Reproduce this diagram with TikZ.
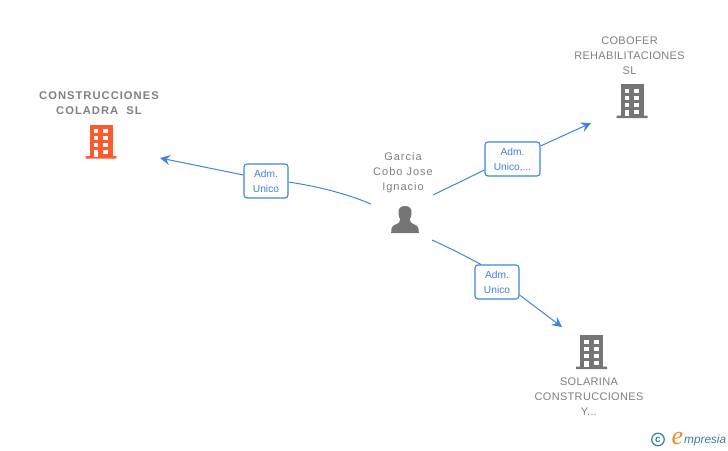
\documentclass[tikz,border=0pt]{standalone}
\usepackage{fontspec}
\setmainfont{Liberation Sans}
\newfontfamily\spaced[LetterSpace=3]{Liberation Sans}
\newfontfamily\spacedwide[LetterSpace=9]{Liberation Sans}
\newfontfamily\spacedb[LetterSpace=9]{Liberation Sans}
\newfontfamily\logofont{Liberation Sans}
\newfontfamily\logoefont{Liberation Serif}
\usetikzlibrary{arrows.meta}
\definecolor{linkblue}{HTML}{3D85E0}
\definecolor{labelblue}{HTML}{3F7FDC}
\definecolor{icongray}{HTML}{757575}
\definecolor{textgray}{HTML}{808080}
\definecolor{iconorange}{HTML}{FF5A2C}
\definecolor{logoteal}{HTML}{3A7F9C}
\definecolor{logoorange}{HTML}{F08A1E}
\tikzset{
  x=1pt,y=-1pt,
  nametext/.style={align=center,text=textgray,font=\fontsize{11}{15}\selectfont\spaced,inner sep=0pt},
  personname/.style={nametext,font=\fontsize{11}{15}\selectfont\spacedwide},
  boldname/.style={nametext,font=\fontsize{11.2}{15}\selectfont\spacedb\bfseries},
  rolebox/.style={draw=linkblue,line width=1.1pt,rounded corners=3pt,top color=white,bottom color=white,middle color=white,
     text=labelblue,align=center,font=\fontsize{10.2}{15}\selectfont,inner sep=0pt,minimum height=34pt},
  link/.style={draw=linkblue,line width=1pt},
  tipped/.style={link,-{Stealth[length=10pt,width=10pt,inset=3.5pt]}},
  pics/building/.style={code={
    \fill[#1] (-11.5,-33) rectangle (11.5,0);
    \fill[#1] (-15.5,-1.5) [rounded corners=.5pt] rectangle (15.5,1.2);
    \foreach \yy in {-28.5,-21.5,-14.5}{
      \fill[white] (-7.5,\yy) rectangle (-2.7,\yy+4.2);
      \fill[white] (2.3,\yy) rectangle (7,\yy+4.2);
    }
    \fill[white] (2.3,-7.5) rectangle (7,-3.3);
    \fill[white] (-7.5,-7.5) rectangle (-2.7,-1);
  }},
  pics/person/.style={code={
    \fill[#1] (0,0) .. controls (-5,0) and (-7,3) .. (-6.5,7.5)
      .. controls (-6.2,10.5) and (-5.5,12) .. (-4.8,13.5)
      .. controls (-4.8,16) and (-6,17) .. (-9.5,18.5)
      .. controls (-13,20) and (-13.8,21.5) .. (-13.8,27)
      -- (13.8,27)
      .. controls (13.8,21.5) and (13,20) .. (9.5,18.5)
      .. controls (6,17) and (4.8,16) .. (4.8,13.5)
      .. controls (5.5,12) and (6.2,10.5) .. (6.5,7.5)
      .. controls (7,3) and (5,0) .. (0,0) -- cycle;
  }}
}
\begin{document}
\begin{tikzpicture}
\useasboundingbox (0,0) rectangle (728,450);
\fill[white] (0,0) rectangle (728,450);
% names
\node[boldname] (coladra) at (99,103.5) {CONSTRUCCIONES\\COLADRA\ \ SL};
\node[nametext] (cobofer) at (629.5,55.5) {COBOFER\\REHABILITACIONES\\SL};
\node[nametext] (solarina) at (589,397) {SOLARINA\\CONSTRUCCIONES\\Y...};
\node[personname] (garcia) at (403,173) {Garcia\\Cobo Jose\\Ignacio};
% icons
\pic at (101,157.5) {building=iconorange};
\pic at (632,117) {building=icongray};
\pic at (591.5,368) {building=icongray};
\pic at (405,206) {person=icongray};
% connector ends
\coordinate (p1) at (371,204);
\coordinate (p2) at (433,195);
\coordinate (p3) at (432,240);
\coordinate (t1) at (160,158);
\coordinate (t2) at (591,123);
\coordinate (t3) at (562,327);
% role labels
\node[rolebox,minimum width=44pt] (lab1) at (266,181) {\rule{0pt}{8.5pt}Adm.\\Unico};
\node[rolebox,minimum width=55pt] (lab2) at (512.5,159) {\rule{0pt}{8.5pt}Adm.\\Unico,...};
\node[rolebox,minimum width=44pt] (lab3) at (497,282) {\rule{0pt}{8.5pt}Adm.\\Unico};
% connectors
\draw[link] (p1) .. controls (345,193) and (315,186) .. (lab1.east |- 0,182);
\draw[tipped] (lab1.west |- 0,175) -- (t1);
\draw[link] (p2) -- (lab2.west |- 0,170);
\draw[tipped] (lab2.east |- 0,146) -- (t2);
\draw[link] (p3) .. controls (450,248) and (465,256) .. (lab3.north -| 481,0);
\draw[tipped] (lab3.east |- 0,295) -- (t3);
% logo
\node[circle,draw=logoteal,line width=1.2pt,minimum size=12.5pt,inner sep=0pt,text=logoteal,font=\fontsize{10}{10}\selectfont\bfseries] (copy) at (658,439.5) {c};
\node[text=logoorange,font=\fontsize{26}{26}\selectfont\logoefont\itshape,inner sep=0pt,anchor=base] (logoe) at (677.5,444) {e};
\node[text=logoteal,font=\fontsize{11.8}{14}\selectfont\logofont\itshape,inner sep=0pt,anchor=base west] (logow) at (684,443) {mpresia};
\end{tikzpicture}
\end{document}
